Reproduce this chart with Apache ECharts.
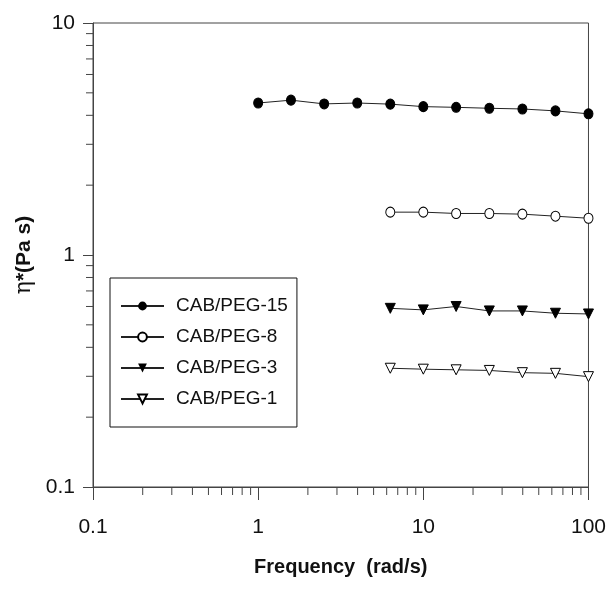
<!DOCTYPE html>
<html>
<head>
<meta charset="utf-8">
<script src="https://cdn.jsdelivr.net/npm/echarts@6/dist/echarts.min.js"></script>
<style>
  html, body { margin: 0; padding: 0; background: #fff; }
  #chart { width: 609px; height: 592px; }
</style>
</head>
<body>
<div id="chart"></div>
<script>
// frequency (rad/s)
var freqLong = [1, 1.58, 2.51, 3.98, 6.31, 10, 15.8, 25.1, 39.8, 63.1, 100];
var freqShort = [6.31, 10, 15.8, 25.1, 39.8, 63.1, 100];

// complex viscosity (Pa s)
var peg15 = [4.52, 4.65, 4.48, 4.52, 4.47, 4.36, 4.33, 4.29, 4.26, 4.18, 4.06];
var peg8 = [1.53, 1.53, 1.51, 1.51, 1.50, 1.47, 1.44];
var peg3 = [0.589, 0.58, 0.60, 0.574, 0.574, 0.561, 0.557];
var peg1 = [0.325, 0.322, 0.320, 0.318, 0.311, 0.309, 0.299];

var seriesNames = ['CAB/PEG-15', 'CAB/PEG-8', 'CAB/PEG-3', 'CAB/PEG-1'];

// minor tick values for the log axes
var xMinor = [0.2, 0.3, 0.4, 0.5, 0.6, 0.7, 0.8, 0.9, 2, 3, 4, 5, 6, 7, 8, 9, 20, 30, 40, 50, 60, 70, 80, 90];
var yMinor = [0.2, 0.3, 0.4, 0.5, 0.6, 0.7, 0.8, 0.9, 2, 3, 4, 5, 6, 7, 8, 9];

function zip(xs, ys) {
    var out = [];
    for (var i = 0; i < xs.length; i++) {
        out.push([xs[i], ys[i]]);
    }
    return out;
}

var lineColor = '#222';
var axisColor = '#444';
var fontName = 'Liberation Sans, Arial, sans-serif';

var myChart = echarts.init(document.getElementById('chart'));

myChart.setOption({
    animation: false,
    grid: {
        left: 93,
        right: 20,
        top: 23,
        bottom: 105,
        show: true,
        borderColor: axisColor,
        borderWidth: 1
    },
    legend: {
        orient: 'vertical',
        left: 110,
        top: 278,
        padding: [18, 9, 18, 10],
        itemGap: 11,
        itemWidth: 43,
        itemHeight: 11,
        borderColor: '#111',
        borderWidth: 1,
        data: seriesNames,
        textStyle: {
            fontFamily: fontName,
            fontSize: 19,
            lineHeight: 20,
            color: '#111',
            padding: [0, 0, 0, 7]
        }
    },
    xAxis: {
        type: 'log',
        logBase: 10,
        min: 0.1,
        max: 100,
        name: 'Frequency  (rad/s)',
        nameLocation: 'middle',
        nameGap: 70,
        nameTextStyle: {
            fontFamily: fontName,
            fontSize: 20,
            fontWeight: 'bold',
            color: '#111'
        },
        axisLine: { lineStyle: { color: axisColor, width: 1 } },
        axisTick: { inside: false, length: 13, lineStyle: { color: axisColor } },
        axisLabel: {
            margin: 30,
            fontFamily: fontName,
            fontSize: 21,
            color: '#111'
        },
        splitLine: { show: false }
    },
    yAxis: {
        type: 'log',
        logBase: 10,
        min: 0.1,
        max: 10,
        name: '{a|η}{b|*(Pa s)}',
        nameLocation: 'middle',
        nameGap: 56,
        nameRotate: 90,
        nameTextStyle: {
            rich: {
                a: { fontFamily: 'DejaVu Serif', fontSize: 22, color: '#111' },
                b: { fontFamily: fontName, fontSize: 21, fontWeight: 'bold', color: '#111' }
            }
        },
        axisLine: { lineStyle: { color: axisColor, width: 1 } },
        axisTick: { inside: false, length: 10, lineStyle: { color: axisColor } },
        axisLabel: {
            margin: 18,
            fontFamily: fontName,
            fontSize: 21,
            color: '#111'
        },
        splitLine: { show: false }
    },
    series: [
        {
            name: 'CAB/PEG-15',
            type: 'line',
            data: zip(freqLong, peg15),
            symbol: 'circle',
            symbolSize: [9, 10],
            lineStyle: { color: lineColor, width: 1 },
            itemStyle: { color: '#000', borderColor: '#000' }
        },
        {
            name: 'CAB/PEG-8',
            type: 'line',
            data: zip(freqShort, peg8),
            symbol: 'circle',
            symbolSize: [9, 10],
            lineStyle: { color: lineColor, width: 1 },
            itemStyle: { color: '#fff', borderColor: '#000', borderWidth: 1 }
        },
        {
            name: 'CAB/PEG-3',
            type: 'line',
            data: zip(freqShort, peg3),
            symbol: 'triangle',
            symbolRotate: 180,
            symbolSize: 10,
            lineStyle: { color: lineColor, width: 1 },
            itemStyle: { color: '#000', borderColor: '#000' }
        },
        {
            name: 'CAB/PEG-1',
            type: 'line',
            data: zip(freqShort, peg1),
            symbol: 'triangle',
            symbolRotate: 180,
            symbolSize: 10,
            lineStyle: { color: lineColor, width: 1 },
            itemStyle: { color: '#fff', borderColor: '#000', borderWidth: 1 }
        },
        // minor ticks on the x axis (drawn at the axis through the scale)
        {
            type: 'custom',
            silent: true,
            clip: false,
            data: xMinor.map(function (v) { return [v, 0.1]; }),
            encode: { x: 0, y: 1 },
            renderItem: function (params, api) {
                var p = api.coord([api.value(0), api.value(1)]);
                return {
                    type: 'line',
                    shape: { x1: p[0], y1: p[1], x2: p[0], y2: p[1] + 8 },
                    style: { stroke: axisColor, lineWidth: 1 }
                };
            }
        },
        // minor ticks on the y axis
        {
            type: 'custom',
            silent: true,
            clip: false,
            data: yMinor.map(function (v) { return [0.1, v]; }),
            encode: { x: 0, y: 1 },
            renderItem: function (params, api) {
                var p = api.coord([api.value(0), api.value(1)]);
                return {
                    type: 'line',
                    shape: { x1: p[0], y1: p[1], x2: p[0] - 7, y2: p[1] },
                    style: { stroke: axisColor, lineWidth: 1 }
                };
            }
        }
    ]
});
</script>
</body>
</html>
